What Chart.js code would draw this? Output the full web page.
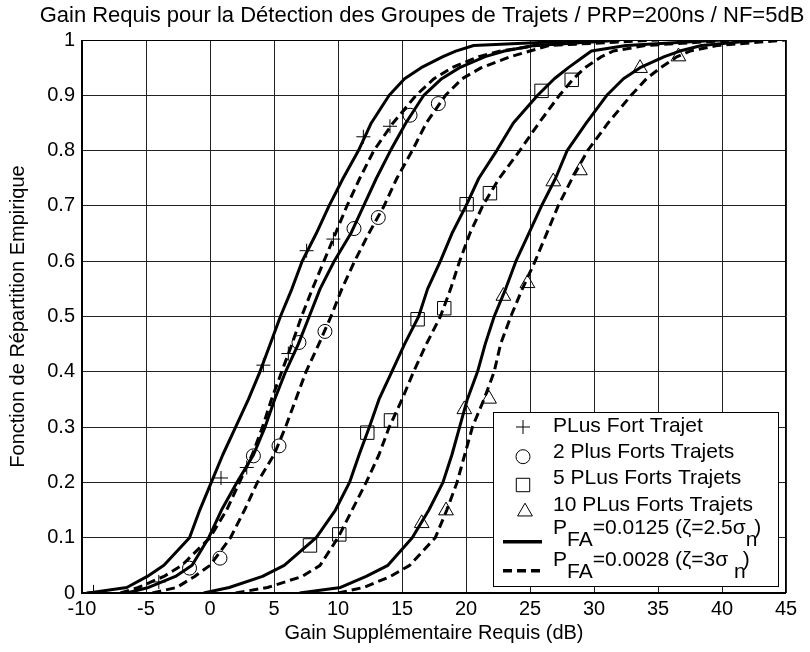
<!DOCTYPE html>
<html><head><meta charset="utf-8">
<script src="https://cdn.jsdelivr.net/npm/chart.js@4/dist/chart.umd.min.js"></script>
<style>html,body{margin:0;padding:0;background:#fff}canvas{display:block}</style>
</head><body>
<canvas id="c" width="810" height="652"></canvas>
<script>
// ---- data ----
const titleText = 'Gain Requis pour la Détection des Groupes de Trajets / PRP=200ns / NF=5dB';
const xAxisLabel = 'Gain Supplémentaire Requis (dB)';
const yAxisLabel = 'Fonction de Répartition Empirique';

// empirical CDF levels (y) and the gain (x) read at each level for each curve
const cdfLevels = [0,0.01,0.03,0.05,0.1,0.15,0.2,0.25,0.3,0.35,0.4,0.45,0.5,0.55,0.6,0.65,0.7,0.75,0.8,0.85,0.9,0.93,0.95,0.97,0.98,0.99,1];
const path1Solid  = [-9.5,-6.5,-4.9,-3.6,-1.6,-0.8,0.1,1.0,2.0,3.0,3.9,4.7,5.5,6.4,7.2,8.3,9.3,10.4,11.6,12.6,14.0,15.2,16.5,18.2,19.2,20.6,30];
const path1Dashed = [-7,-5.6,-3.6,-2.2,0.0,1.3,2.3,3.3,4.1,4.8,5.6,6.4,7.15,8.0,8.9,9.8,10.7,11.7,12.8,14.3,16.1,17.5,18.9,21.0,22.7,25.5,32];
const path2Solid  = [-6.5,-4.8,-2.7,-1.4,-0.1,0.9,2.1,3.4,4.3,5.05,5.9,6.9,7.75,8.6,9.7,11.0,12.0,13.0,14.1,15.3,16.7,18.1,19.5,21.5,23.0,25.3,32];
const path2Dashed = [-4.5,-2.6,-1.2,0.0,1.6,2.7,3.7,5.0,5.9,6.7,7.5,8.5,9.45,10.3,11.3,12.4,13.6,14.6,15.8,16.9,18.4,19.7,21.2,23.5,25.0,26.5,35];
const path5Solid  = [-0.5,1.5,4.1,5.8,8.3,9.8,10.9,11.65,12.45,13.2,14.2,15.2,16.3,17.0,18.0,18.9,20.0,21.0,22.4,23.7,25.6,26.9,28.0,29.2,29.8,32.5,40];
const path5Dashed = [2.0,4.5,7.2,8.6,10.0,11.1,12.2,13.2,14.0,15.0,15.9,16.9,18.0,18.8,19.5,20.3,21.3,22.6,24.2,25.7,27.3,28.4,29.3,30.6,31.5,34.0,41];
const path10Solid = [7.0,10.2,12.2,13.9,15.8,17.1,18.2,18.9,19.5,20.1,20.9,21.5,22.2,23.1,23.9,24.9,25.9,27.0,27.9,29.4,31.0,32.3,33.6,35.5,36.7,38.4,43];
const path10Dashed= [10.0,12.0,14.1,15.6,17.6,18.5,19.3,19.9,20.5,21.4,22.2,22.7,23.5,24.4,25.4,26.3,27.2,28.3,29.5,31.1,32.9,34.1,35.2,36.5,37.5,39.6,45];

// marker positions
const plusX = [-9.1,0.86,4.17,7.55,11.98,-4.0,2.87,6.12,9.64,14.06];
const plusY = [0.002,0.208,0.412,0.619,0.825,0.02,0.227,0.433,0.64,0.844];
const circleX = [-1.6,3.39,6.95,11.25,15.63,0.78,5.39,8.98,13.15,17.84];
const circleY = [0.045,0.248,0.453,0.659,0.864,0.063,0.266,0.473,0.679,0.885];
const squareX = [7.81,12.29,16.22,20.05,25.9,10.1,14.14,18.3,21.87,28.26];
const squareY = [0.086,0.29,0.495,0.703,0.908,0.106,0.312,0.515,0.723,0.928];
const triangleX = [16.54,19.87,22.92,26.82,33.6,18.44,21.8,24.8,28.9,36.6];
const triangleY = [0.126,0.332,0.537,0.744,0.949,0.149,0.351,0.56,0.764,0.97];

const legendLabels = ['PLus Fort Trajet','2 Plus Forts Trajets','5 PLus Forts Trajets','10 PLus Forts Trajets'];
const thresholdLabels = [
  ['P','FA','=0.0125 (ζ=2.5σ','n',')'],
  ['P','FA','=0.0028 (ζ=3σ ','n',')']
];

// ---- build datasets ----
const FONT = '"Liberation Sans", Arial, sans-serif';
const pts = (xs, ys) => xs.map((x, i) => ({x, y: ys[i]}));
const curve = (xs, dashed) => ({
  data: pts(xs, cdfLevels), showLine: true, borderColor: '#000', borderWidth: 3,
  borderDash: dashed ? [9,5] : [], pointRadius: 0, fill: false, tension: 0,
  borderJoinStyle: 'round', order: 2
});
const markers = (xs, ys, style, r) => ({
  data: pts(xs, ys), showLine: false, pointStyle: style, pointRadius: r,
  pointBorderColor: '#000', pointBackgroundColor: 'rgba(0,0,0,0)', pointBorderWidth: 1, order: 1
});

const datasets = [
  curve(path1Solid,false), curve(path1Dashed,true),
  curve(path2Solid,false), curve(path2Dashed,true),
  curve(path5Solid,false), curve(path5Dashed,true),
  curve(path10Solid,false), curve(path10Dashed,true),
  markers(plusX, plusY, 'cross', 7),
  markers(circleX, circleY, 'circle', 7),
  markers(squareX, squareY, 'rect', 9.5),
  markers(triangleX, triangleY, 'triangle', 8.5)
];

const titlePlugin = {
  id: 'plotTitle',
  afterDraw(chart) {
    const ctx = chart.ctx;
    ctx.save();
    ctx.font = '22px ' + FONT;
    ctx.fillStyle = '#000';
    ctx.textAlign = 'center';
    ctx.textBaseline = 'middle';
    ctx.fillText(titleText, 422, 16);
    ctx.restore();
  }
};

const framePlugin = {
  id: 'frame',
  afterDatasetsDraw(chart) {
    const {ctx, chartArea: a} = chart;
    ctx.save();
    ctx.strokeStyle = '#000';
    ctx.lineWidth = 1;
    ctx.strokeRect(Math.round(a.left)+0.5, Math.round(a.top)+0.5, Math.round(a.right-a.left)-1, Math.round(a.bottom-a.top)-1);
    ctx.lineWidth = 2;
    ctx.beginPath();
    ctx.moveTo(a.left, a.top); ctx.lineTo(a.left, a.bottom); ctx.lineTo(a.right, a.bottom);
    ctx.stroke();
    ctx.restore();
  }
};

function drawMarker(ctx, style, x, y, r) {
  ctx.beginPath();
  if (style === 'cross') {
    ctx.moveTo(x - r, y); ctx.lineTo(x + r, y);
    ctx.moveTo(x, y - r); ctx.lineTo(x, y + r);
  } else if (style === 'circle') {
    ctx.arc(x, y, r, 0, Math.PI * 2);
  } else if (style === 'rect') {
    const s = r * Math.SQRT1_2;
    ctx.rect(x - s, y - s, 2 * s, 2 * s);
  } else if (style === 'triangle') {
    ctx.moveTo(x, y - r);
    ctx.lineTo(x + r * Math.sin(Math.PI / 3), y + r / 2);
    ctx.lineTo(x - r * Math.sin(Math.PI / 3), y + r / 2);
    ctx.closePath();
  }
  ctx.stroke();
}

const legendPlugin = {
  id: 'matlabLegend',
  afterDraw(chart) {
    const {ctx, chartArea: a} = chart;
    const x1 = Math.round(a.right) - 8, y1 = Math.round(a.bottom) - 7;
    const x0 = x1 - 285, y0 = y1 - 174;
    ctx.save();
    ctx.fillStyle = '#fff';
    ctx.fillRect(x0, y0, x1 - x0, y1 - y0);
    ctx.strokeStyle = '#000';
    ctx.lineWidth = 1;
    ctx.strokeRect(x0 + 0.5, y0 + 0.5, x1 - x0, y1 - y0);
    ctx.font = '21px ' + FONT;
    ctx.fillStyle = '#000';
    ctx.textBaseline = 'middle';
    ctx.textAlign = 'left';
    const tx = x0 + 60;
    const rowsText = [14, 40.7, 66.3, 93];
    const rowsMark = [15, 44.7, 73, 99.7];
    const styles = [['cross',7],['circle',7],['rect',9.5],['triangle',8.5]];
    legendLabels.forEach((lab, i) => {
      ctx.fillText(lab, tx, y0 + rowsText[i]);
      drawMarker(ctx, styles[i][0], x0 + 30 + (i === 3 ? 2 : 0), y0 + rowsMark[i], styles[i][1]);
    });
    const thrText = [116.3, 148];
    const thrLine = [129.7, 158.7];
    thresholdLabels.forEach((parts, i) => {
      let x = tx;
      const yb = y0 + thrText[i];
      parts.forEach((p, k) => {
        const sub = (k === 1 || k === 3);
        ctx.fillText(p, x, sub ? yb + 12 : yb);
        x += ctx.measureText(p).width - (k === 3 ? 3 : 0);
      });
      ctx.lineWidth = 3.5;
      ctx.setLineDash(i === 0 ? [] : [9, 5]);
      ctx.beginPath();
      ctx.moveTo(x0 + 10, y0 + thrLine[i]);
      ctx.lineTo(x0 + 49, y0 + thrLine[i]);
      ctx.stroke();
      ctx.setLineDash([]);
    });
    ctx.restore();
  }
};

new Chart(document.getElementById('c'), {
  type: 'scatter',
  data: { datasets },
  options: {
    responsive: false,
    animation: false,
    devicePixelRatio: 1,
    layout: { padding: { top: 40, right: 24, left: 0, bottom: 0 } },
    plugins: { legend: { display: false }, title: { display: false }, tooltip: { enabled: false } },
    scales: {
      x: {
        type: 'linear', min: -10, max: 45,
        afterFit: s => { s.height = 59; },
        ticks: { stepSize: 5, color: '#000', font: { family: FONT, size: 20 }, padding: 4, maxRotation: 0 },
        grid: { color: '#222', lineWidth: 1, drawTicks: false },
        border: { display: false },
        title: { display: true, text: xAxisLabel, color: '#000', font: { family: FONT, size: 20 }, padding: { top: 0, bottom: 7 } }
      },
      y: {
        type: 'linear', min: 0, max: 1,
        afterFit: s => { s.width = 82; },
        ticks: { stepSize: 0.1, color: '#000', font: { family: FONT, size: 20 }, padding: 7,
                 callback: v => String(Number(v.toFixed(1))) },
        grid: { color: '#222', lineWidth: 1, drawTicks: false },
        border: { display: false },
        title: { display: true, text: yAxisLabel, color: '#000', font: { family: FONT, size: 20 }, padding: { top: 6, bottom: 0 } }
      }
    }
  },
  plugins: [framePlugin, legendPlugin, titlePlugin]
});
</script>
</body></html>
